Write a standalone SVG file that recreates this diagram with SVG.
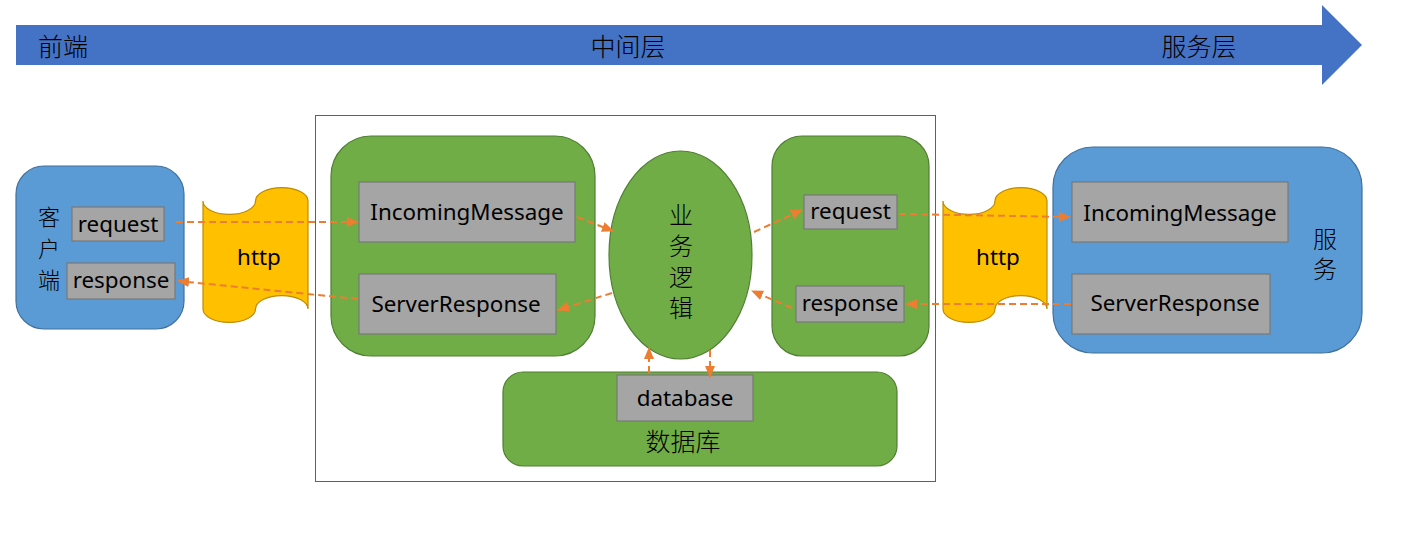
<svg xmlns="http://www.w3.org/2000/svg" width="1401" height="535" viewBox="0 0 1401 535">
<style>
.lat{font-family:"Noto Sans","Open Sans","Liberation Sans",sans-serif;font-size:22.4px;fill:#000;text-anchor:middle}
.cjk{font-family:"Noto Sans CJK SC","Noto Sans",sans-serif;font-weight:300;fill:#000;text-anchor:middle}
.vert{writing-mode:vertical-rl}
.blue{fill:#5B9BD5;stroke:#41719C;stroke-width:1.2}
.green{fill:#70AD47;stroke:#507E32;stroke-width:1.2}
.gray{fill:#A5A5A5;stroke:#787878;stroke-width:1.2}
.tape{fill:#FFC000;stroke:#BC8C00;stroke-width:1.2}
.con{fill:none;stroke:#ED7D31;stroke-width:2;stroke-dasharray:7 4;marker-end:url(#ah)}
</style>
<defs>
<marker id="ah" markerUnits="userSpaceOnUse" markerWidth="12" markerHeight="10" refX="11" refY="5" orient="auto">
<path d="M0,0 L12,5 L0,10 Z" fill="#ED7D31"/>
</marker>
</defs>
<rect width="1401" height="535" fill="#fff"/>
<g id="timeline">
<polygon points="16,25 1322,25 1322,5 1362,45 1322,85 1322,65 16,65" fill="#4472C4"/>
<text class="cjk" x="63" y="56" font-size="25">前端</text>
<text class="cjk" x="628" y="56" font-size="25">中间层</text>
<text class="cjk" x="1199" y="56" font-size="25">服务层</text>
</g>
<g id="middle-frame">
<rect x="315.5" y="115.5" width="620" height="366" fill="none" stroke="#3A6898" stroke-width="1"/>
</g>
<g id="client">
<rect class="blue" x="16" y="166" width="168" height="163" rx="28"/>
<text class="cjk vert" x="49" y="253" font-size="22" letter-spacing="9.5">客户端</text>
<rect class="gray" x="72" y="207" width="92" height="34"/>
<text class="lat" x="118" y="232">request</text>
<rect class="gray" x="67" y="263" width="108" height="36"/>
<text class="lat" x="121" y="288">response</text>
</g>
<g id="http-left">
<path class="tape" d="M203,201 A26.25,13.4 0 0 0 255.5,201 A26.25,13.4 0 0 1 308,201 L308,309 A26.25,13.4 0 0 0 255.5,309 A26.25,13.4 0 0 1 203,309 Z"/>
<text class="lat" x="259" y="265">http</text>
</g>
<g id="node-server-in">
<rect class="green" x="331" y="136" width="264" height="220" rx="40"/>
<rect class="gray" x="359" y="182" width="216" height="60"/>
<text class="lat" x="467" y="220">IncomingMessage</text>
<rect class="gray" x="359" y="274" width="197" height="60"/>
<text class="lat" x="456" y="312">ServerResponse</text>
</g>
<g id="logic">
<ellipse class="green" cx="680.5" cy="255" rx="71.5" ry="104"/>
<text class="cjk vert" x="681" y="265" font-size="24" letter-spacing="7">业务逻辑</text>
</g>
<g id="node-client-out">
<rect class="green" x="772" y="136" width="157" height="220" rx="30"/>
<rect class="gray" x="804" y="195" width="93" height="34"/>
<text class="lat" x="850.5" y="219">request</text>
<rect class="gray" x="796" y="286" width="108" height="36"/>
<text class="lat" x="850" y="311">response</text>
</g>
<g id="db">
<rect class="green" x="503" y="372" width="394" height="94" rx="20"/>
<rect class="gray" x="617" y="375" width="136" height="46"/>
<text class="lat" x="685" y="406">database</text>
<text class="cjk" x="683" y="451" font-size="25">数据库</text>
</g>
<g id="http-right">
<path class="tape" d="M943,201 A26,13.4 0 0 0 995,201 A26,13.4 0 0 1 1047,201 L1047,309 A26,13.4 0 0 0 995,309 A26,13.4 0 0 1 943,309 Z"/>
<text class="lat" x="998" y="265">http</text>
</g>
<g id="service">
<rect class="blue" x="1053" y="147" width="309" height="206" rx="40"/>
<rect class="gray" x="1072" y="182" width="216" height="60"/>
<text class="lat" x="1180" y="221">IncomingMessage</text>
<rect class="gray" x="1072" y="274" width="198" height="60"/>
<text class="lat" x="1175" y="311">ServerResponse</text>
<text class="cjk vert" x="1325" y="257" font-size="24" letter-spacing="6">服务</text>
</g>
<g id="connectors">
<line class="con" x1="176" y1="222" x2="358" y2="222"/>
<line class="con" x1="358" y1="299" x2="178" y2="281"/>
<line class="con" x1="577" y1="217" x2="613" y2="231"/>
<line class="con" x1="612" y1="293" x2="558" y2="310"/>
<line class="con" x1="754" y1="232" x2="802" y2="210"/>
<line class="con" x1="792" y1="308" x2="752" y2="291"/>
<line class="con" x1="899" y1="214" x2="1070" y2="217"/>
<line class="con" x1="1071" y1="304" x2="906" y2="304"/>
<line class="con" x1="649" y1="373" x2="649" y2="348"/>
<line class="con" x1="710" y1="350" x2="710" y2="377"/>
</g>
</svg>
